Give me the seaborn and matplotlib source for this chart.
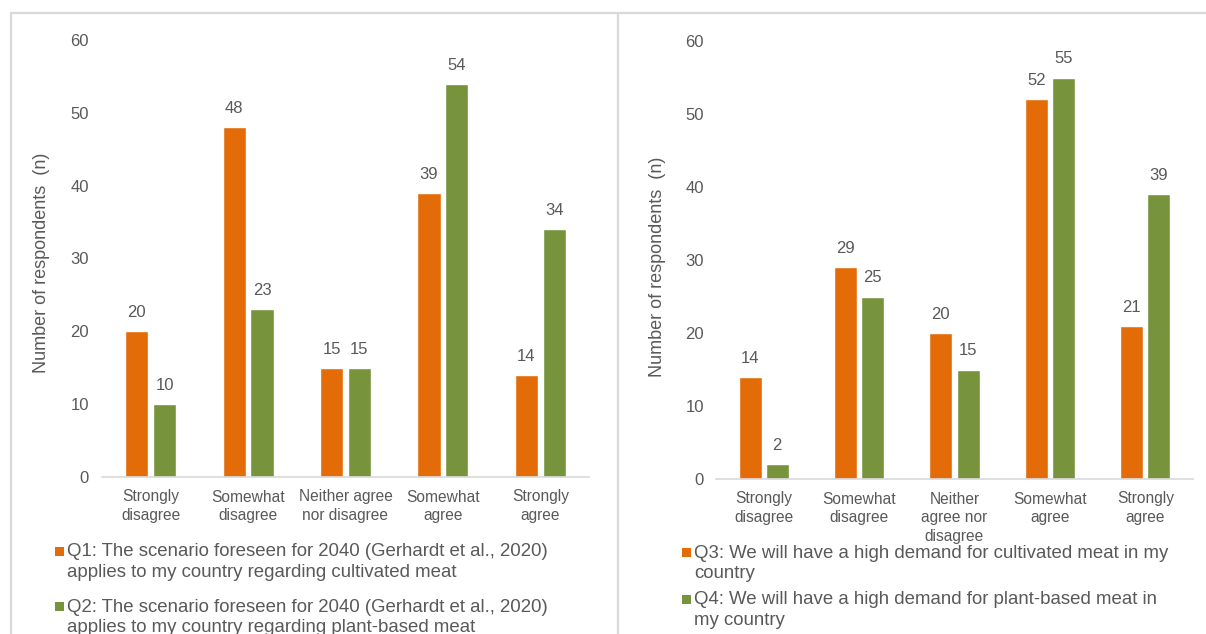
import matplotlib
matplotlib.use("Agg")
import matplotlib.pyplot as plt
from matplotlib.lines import Line2D
from matplotlib.patches import Rectangle
import seaborn as sns
import pandas as pd

# Survey answers (number of respondents per answer option)
categories_left = ["Strongly\ndisagree", "Somewhat\ndisagree", "Neither agree\nnor disagree",
                   "Somewhat\nagree", "Strongly\nagree"]
categories_right = ["Strongly\ndisagree", "Somewhat\ndisagree", "Neither\nagree nor\ndisagree",
                    "Somewhat\nagree", "Strongly\nagree"]
q1 = [20, 48, 15, 39, 14]
q2 = [10, 23, 15, 54, 34]
q3 = [14, 29, 20, 52, 21]
q4 = [2, 25, 15, 55, 39]

legend_q1 = "Q1: The scenario foreseen for 2040 (Gerhardt et al., 2020)\napplies to my country regarding cultivated meat"
legend_q2 = "Q2: The scenario foreseen for 2040 (Gerhardt et al., 2020)\napplies to my country regarding plant-based meat"
legend_q3 = "Q3: We will have a high demand for cultivated meat in my\ncountry"
legend_q4 = "Q4: We will have a high demand for plant-based meat in\nmy country"

ORANGE = "#E36C09"
GREEN = "#77933C"
TEXT = "#595959"
RULE = "#D9D9D9"

sns.set_style("white")
plt.rcParams["font.family"] = ["Liberation Sans", "DejaVu Sans"]

W, H = 1206, 634
fig = plt.figure(figsize=(W / 100, H / 100), dpi=100)


def px_axes(x0, x1, y_top, y_bot):
    return fig.add_axes([x0 / W, 1 - y_bot / H, (x1 - x0) / W, (y_bot - y_top) / H])


def draw_panel(ax, cats, a, b, label_a, label_b, ypad):
    df = pd.DataFrame({
        "response": cats * 2,
        "n": a + b,
        "question": [label_a] * len(cats) + [label_b] * len(cats),
    })
    sns.barplot(data=df, x="response", y="n", hue="question", order=cats,
                hue_order=[label_a, label_b], palette=[ORANGE, GREEN],
                saturation=1, width=0.57, gap=0.16, legend=False, ax=ax)
    for cont in ax.containers:
        ax.bar_label(cont, padding=8, fontsize=12, color=TEXT)
    ax.set_ylim(0, 60)
    ax.set_yticks(range(0, 61, 10))
    ax.set_xlabel("")
    ax.set_ylabel("Number of respondents  (n)", fontsize=13, color=TEXT)
    ax.tick_params(axis="both", length=0, labelcolor=TEXT)
    ax.tick_params(axis="y", pad=ypad, labelsize=12)
    ax.tick_params(axis="x", pad=9, labelsize=11.2)
    for lab in ax.get_xticklabels():
        lab.set_linespacing(1.3)
    for side in ("left", "top", "right"):
        ax.spines[side].set_visible(False)
    ax.spines["bottom"].set_color(RULE)
    ax.spines["bottom"].set_linewidth(1.2)
    ax.grid(False)


ax_l = px_axes(102, 589, 40, 477)
draw_panel(ax_l, categories_left, q1, q2, "Q1", "Q2", 9.4)
ax_l.yaxis.set_label_coords(-52 / 487, 0.49)

ax_r = px_axes(716, 1193, 41, 479)
draw_panel(ax_r, categories_right, q3, q4, "Q3", "Q4", 8.8)
ax_r.yaxis.set_label_coords(-50 / 477, 0.484)

# Panel frames
for x0, y0, x1, y1 in [(11, 13, W, 13), (11, 13, 11, H), (618, 13, 618, H)]:
    fig.add_artist(Line2D([x0 / W, x1 / W], [1 - y0 / H, 1 - y1 / H],
                          color=RULE, lw=1.6, transform=fig.transFigure))


# Legends below each panel
def legend_entry(x_sq, y_mid, color, text):
    s = 9
    fig.add_artist(Rectangle((x_sq / W, 1 - (y_mid + s / 2) / H), s / W, s / H,
                             facecolor=color, edgecolor="none", transform=fig.transFigure))
    fig.text((x_sq + 12) / W, 1 - (y_mid - 7.5) / H, text, fontsize=13.4, color=TEXT,
             ha="left", va="top", linespacing=1.27)


legend_entry(55, 551, ORANGE, legend_q1)
legend_entry(55, 606, GREEN, legend_q2)
legend_entry(682, 552, ORANGE, legend_q3)
legend_entry(682, 599, GREEN, legend_q4)

fig.savefig("out.png", dpi=100, facecolor="white")
